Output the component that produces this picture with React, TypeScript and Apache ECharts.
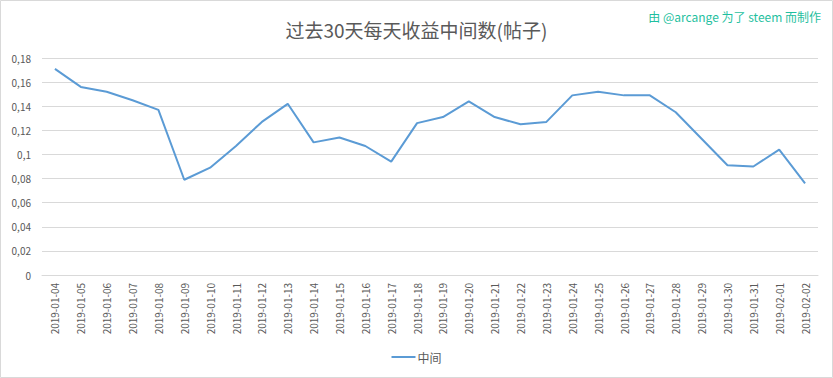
import React, { useEffect, useRef } from "react";
import * as echarts from "echarts";

const categories = [
  "2019-01-04", "2019-01-05", "2019-01-06", "2019-01-07", "2019-01-08", "2019-01-09",
  "2019-01-10", "2019-01-11", "2019-01-12", "2019-01-13", "2019-01-14", "2019-01-15",
  "2019-01-16", "2019-01-17", "2019-01-18", "2019-01-19", "2019-01-20", "2019-01-21",
  "2019-01-22", "2019-01-23", "2019-01-24", "2019-01-25", "2019-01-26", "2019-01-27",
  "2019-01-28", "2019-01-29", "2019-01-30", "2019-01-31", "2019-02-01", "2019-02-02",
];

const medianValues = [
  0.171, 0.156, 0.152, 0.145, 0.137, 0.079,
  0.089, 0.107, 0.127, 0.142, 0.110, 0.114,
  0.107, 0.094, 0.126, 0.131, 0.144, 0.131,
  0.125, 0.127, 0.149, 0.152, 0.149, 0.149,
  0.135, 0.113, 0.091, 0.090, 0.104, 0.076,
];

const seriesName = "中间";
const titleText = "过去30天每天收益中间数(帖子)";
const creditText = "由 @arcange 为了 steem 而制作";

const FONT = "'Noto Sans CJK SC', 'Open Sans', sans-serif";

export default function App() {
  const ref = useRef<HTMLDivElement>(null);
  useEffect(() => {
    if (!ref.current) return;
    const chart = echarts.init(ref.current, undefined, { renderer: "svg" });
    chart.setOption({
      animation: false,
      backgroundColor: "#ffffff",
      title: {
        text: titleText,
        left: "center",
        top: 15,
        textStyle: { fontFamily: FONT, fontSize: 19, fontWeight: "normal", color: "#595959" },
      },
      graphic: [
        {
          type: "rect",
          shape: { x: 0.5, y: 0.5, width: 832, height: 377 },
          style: { fill: "none", stroke: "#d9d9d9", lineWidth: 1 },
          silent: true,
        },
        {
          type: "text",
          right: 12,
          top: 10,
          style: { text: creditText, fill: "#1fbfa0", font: `12px ${FONT}` },
        },
      ],
      legend: {
        data: [seriesName],
        bottom: 10,
        left: "center",
        itemWidth: 24,
        itemHeight: 2,
        itemGap: 4,
        icon: "rect",
        textStyle: { fontFamily: FONT, fontSize: 12, color: "#595959", padding: [0, 0, 0, -3] },
      },
      grid: { left: 42, right: 15, top: 58, bottom: 103, containLabel: false },
      xAxis: {
        type: "category",
        data: categories,
        boundaryGap: true,
        axisLine: { show: true, lineStyle: { color: "#d9d9d9" } },
        axisTick: { show: false },
        axisLabel: {
          rotate: 90,
          interval: 0,
          fontFamily: FONT,
          fontSize: 10,
          color: "#595959",
          margin: 8,
        },
      },
      yAxis: {
        type: "value",
        min: 0,
        max: 0.18,
        interval: 0.02,
        axisLine: { show: false },
        axisTick: { show: false },
        splitLine: { lineStyle: { color: "#d9d9d9" } },
        axisLabel: {
          fontFamily: FONT,
          fontSize: 10,
          color: "#595959",
          margin: 11,
          formatter: (v: number) => String(parseFloat(v.toFixed(2))).replace(".", ","),
        },
      },
      series: [
        {
          name: seriesName,
          type: "line",
          data: medianValues,
          showSymbol: false,
          symbol: "none",
          lineStyle: { color: "#5b9bd5", width: 2 },
          itemStyle: { color: "#5b9bd5" },
        },
      ],
    });
    return () => chart.dispose();
  }, []);
  return (
    <div
      ref={ref}
      style={{ position: "fixed", left: 0, top: 0, width: 833, height: 378 }}
    />
  );
}
